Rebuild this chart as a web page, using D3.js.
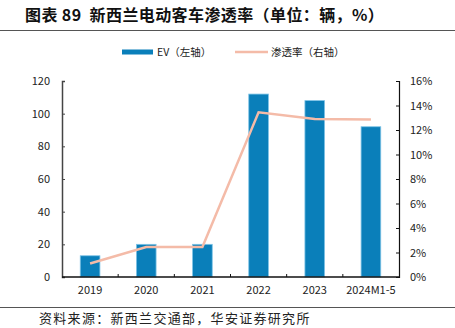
<!DOCTYPE html>
<html><head><meta charset="utf-8">
<script src="https://cdn.jsdelivr.net/npm/d3@7"></script>
<style>body{margin:0;background:#fff}svg{display:block}</style>
</head><body>
<script>
const categories = ["2019","2020","2021","2022","2023","2024M1-5"];
const evValues = [13, 20, 20, 112, 108, 92];
const penetration = [1.1, 2.45, 2.45, 13.45, 12.9, 12.85];
const leftTicks = [0,20,40,60,80,100,120];
const rightTicks = [0,2,4,6,8,10,12,14,16];

const W=455,H=328;
const svg=d3.select("body").append("svg").attr("width",W).attr("height",H);
const font="'Noto Sans CJK SC','Liberation Sans',Arial,sans-serif";
const m={l:62,r:399,t:81,b:277};

svg.append("text").attr("x",25).attr("y",21).attr("font-family",font).attr("font-weight","bold")
  .attr("font-size",16).attr("letter-spacing",0.4).attr("fill","#111").attr("xml:space","preserve")
  .text("图表 89  新西兰电动客车渗透率（单位：辆，%）");
svg.append("line").attr("x1",0).attr("x2",W).attr("y1",30.5).attr("y2",30.5).attr("stroke","#555").attr("stroke-width",1);

const x=d3.scaleBand().domain(categories).range([m.l,m.r]).paddingInner(0.65).paddingOuter(0.325);
const xb=d3.scaleBand().domain(categories).range([m.l,m.r]);
const yL=d3.scaleLinear().domain([0,120]).range([m.b,m.t]);
const yR=d3.scaleLinear().domain([0,16]).range([m.b,m.t]);

// bars
svg.append("g").selectAll("rect").data(evValues).join("rect")
  .attr("x",(d,i)=>x(categories[i])).attr("width",x.bandwidth())
  .attr("y",d=>yL(d)).attr("height",d=>m.b-yL(d))
  .attr("fill","#0a7fba").attr("stroke","#7ec3e6").attr("stroke-width",0.8);

// line
const line=d3.line().x((d,i)=>xb(categories[i])+xb.bandwidth()/2).y(d=>yR(d));
svg.append("path").datum(penetration).attr("d",line).attr("fill","none")
  .attr("stroke","#f4bba8").attr("stroke-width",2.5);

// left axis
const gL=svg.append("g").attr("transform",`translate(${m.l},0)`)
  .call(d3.axisLeft(yL).tickValues(leftTicks).tickSize(-3).tickPadding(12));
gL.select(".domain").attr("stroke","#444").attr("stroke-width",1.5);
gL.selectAll(".tick line").attr("stroke","#444");
gL.selectAll("text").attr("font-family",font).attr("font-size",11).attr("fill","#222");

// right axis
const gR=svg.append("g").attr("transform",`translate(${m.r},0)`)
  .call(d3.axisRight(yR).tickValues(rightTicks).tickFormat(d=>d+"%").tickSize(-3).tickPadding(11));
gR.select(".domain").attr("stroke","#111").attr("stroke-width",1.2);
gR.selectAll(".tick line").attr("stroke","#111");
gR.selectAll("text").attr("font-family",font).attr("font-size",11).attr("fill","#222");

// x axis
const gX=svg.append("g").attr("transform",`translate(0,${m.b})`);
gX.append("line").attr("x1",m.l).attr("x2",m.r).attr("stroke","#111").attr("stroke-width",1.5);
gX.selectAll("line.t").data(categories.slice(1)).join("line").attr("class","t")
  .attr("x1",d=>xb(d)).attr("x2",d=>xb(d)).attr("y1",0).attr("y2",-3).attr("stroke","#111");
gX.selectAll("text").data(categories).join("text")
  .attr("x",d=>xb(d)+xb.bandwidth()/2).attr("y",17).attr("text-anchor","middle")
  .attr("font-family",font).attr("font-size",11).attr("fill","#222").text(d=>d);

// legend
svg.append("rect").attr("x",122).attr("y",49.5).attr("width",31).attr("height",5).attr("fill","#0a7fba");
svg.append("text").attr("x",157).attr("y",56).attr("font-family",font).attr("font-size",10.5).attr("fill","#222").text("EV（左轴）");
svg.append("line").attr("x1",235).attr("x2",268).attr("y1",52).attr("y2",52).attr("stroke","#f4bba8").attr("stroke-width",2.5);
svg.append("text").attr("x",271).attr("y",56).attr("font-family",font).attr("font-size",10.5).attr("fill","#222").text("渗透率（右轴）");

// source
svg.append("line").attr("x1",0).attr("x2",W).attr("y1",307.5).attr("y2",307.5).attr("stroke","#555").attr("stroke-width",1);
svg.append("text").attr("x",39).attr("y",323).attr("font-family",font).attr("font-size",13).attr("letter-spacing",1.3).attr("fill","#222").text("资料来源：新西兰交通部，华安证券研究所");
</script>
</body></html>
